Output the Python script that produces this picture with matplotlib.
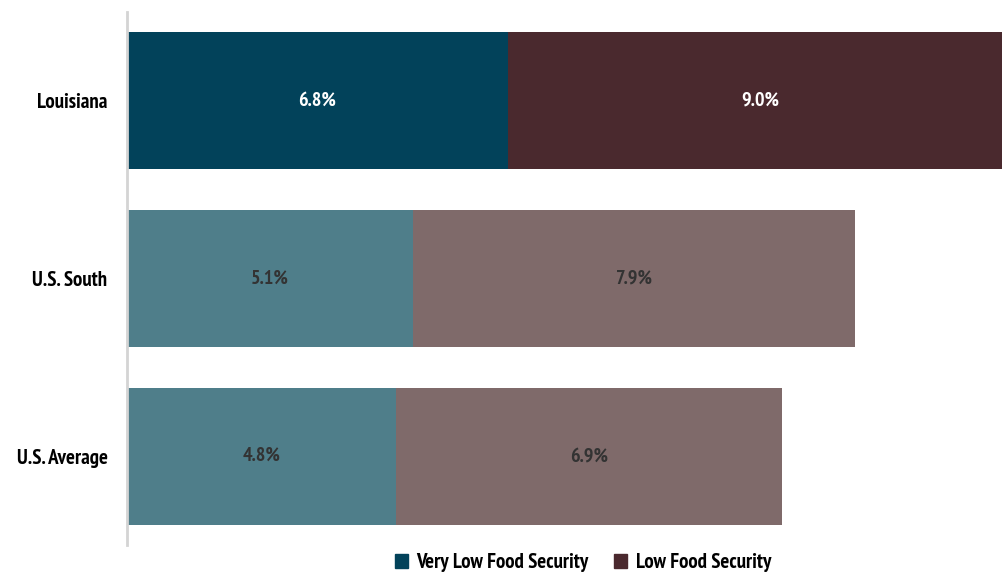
import matplotlib.pyplot as plt
from matplotlib.patches import Patch

# data
regions = ['Louisiana', 'U.S. South', 'U.S. Average']
very_low = [6.8, 5.1, 4.8]
low = [9.0, 7.9, 6.9]

dark_colors = ['#02425A', '#4A292E']
light_colors = ['#4F7E8A', '#7F6A6A']

plt.rcParams['font.family'] = ['PT Sans Narrow', 'DejaVu Sans']

fig = plt.figure(figsize=(10.02, 5.75), dpi=100)
ax = fig.add_axes([127 / 1002, 30 / 575, 1 - 127 / 1002, 533 / 575])

for i, name in enumerate(regions):
    c1, c2 = (dark_colors if i == 0 else light_colors)
    txt = 'white' if i == 0 else '#333333'
    ax.barh(i, very_low[i], height=0.77, color=c1)
    ax.barh(i, low[i], left=very_low[i], height=0.77, color=c2)
    ax.text(very_low[i] / 2, i, f'{very_low[i]:.1f}%', ha='center', va='center',
            color=txt, fontsize=14.5, fontweight='bold')
    ax.text(very_low[i] + low[i] / 2, i, f'{low[i]:.1f}%', ha='center', va='center',
            color=txt, fontsize=14.5, fontweight='bold')

ax.set_xlim(0, 15.62)
ax.set_ylim(2.5, -0.5)
ax.set_yticks(range(len(regions)))
ax.set_yticklabels(regions, fontsize=15, fontweight='bold')
ax.tick_params(axis='y', length=0, pad=14)
ax.set_xticks([])
for s in ['top', 'right', 'bottom']:
    ax.spines[s].set_visible(False)
ax.spines['left'].set_color('#D4D4D4')
ax.spines['left'].set_linewidth(2)

handles = [Patch(color=dark_colors[0], label='Very Low Food Security'),
           Patch(color=dark_colors[1], label='Low Food Security')]
fig.legend(handles=handles, loc='center', bbox_to_anchor=(583 / 1002, 1 - 563 / 575),
           ncol=2, frameon=False, handlelength=0.65, handleheight=0.65,
           handletextpad=0.4, columnspacing=1.2,
           prop={'size': 15, 'weight': 'bold'})

fig.savefig('out.png', dpi=100)
